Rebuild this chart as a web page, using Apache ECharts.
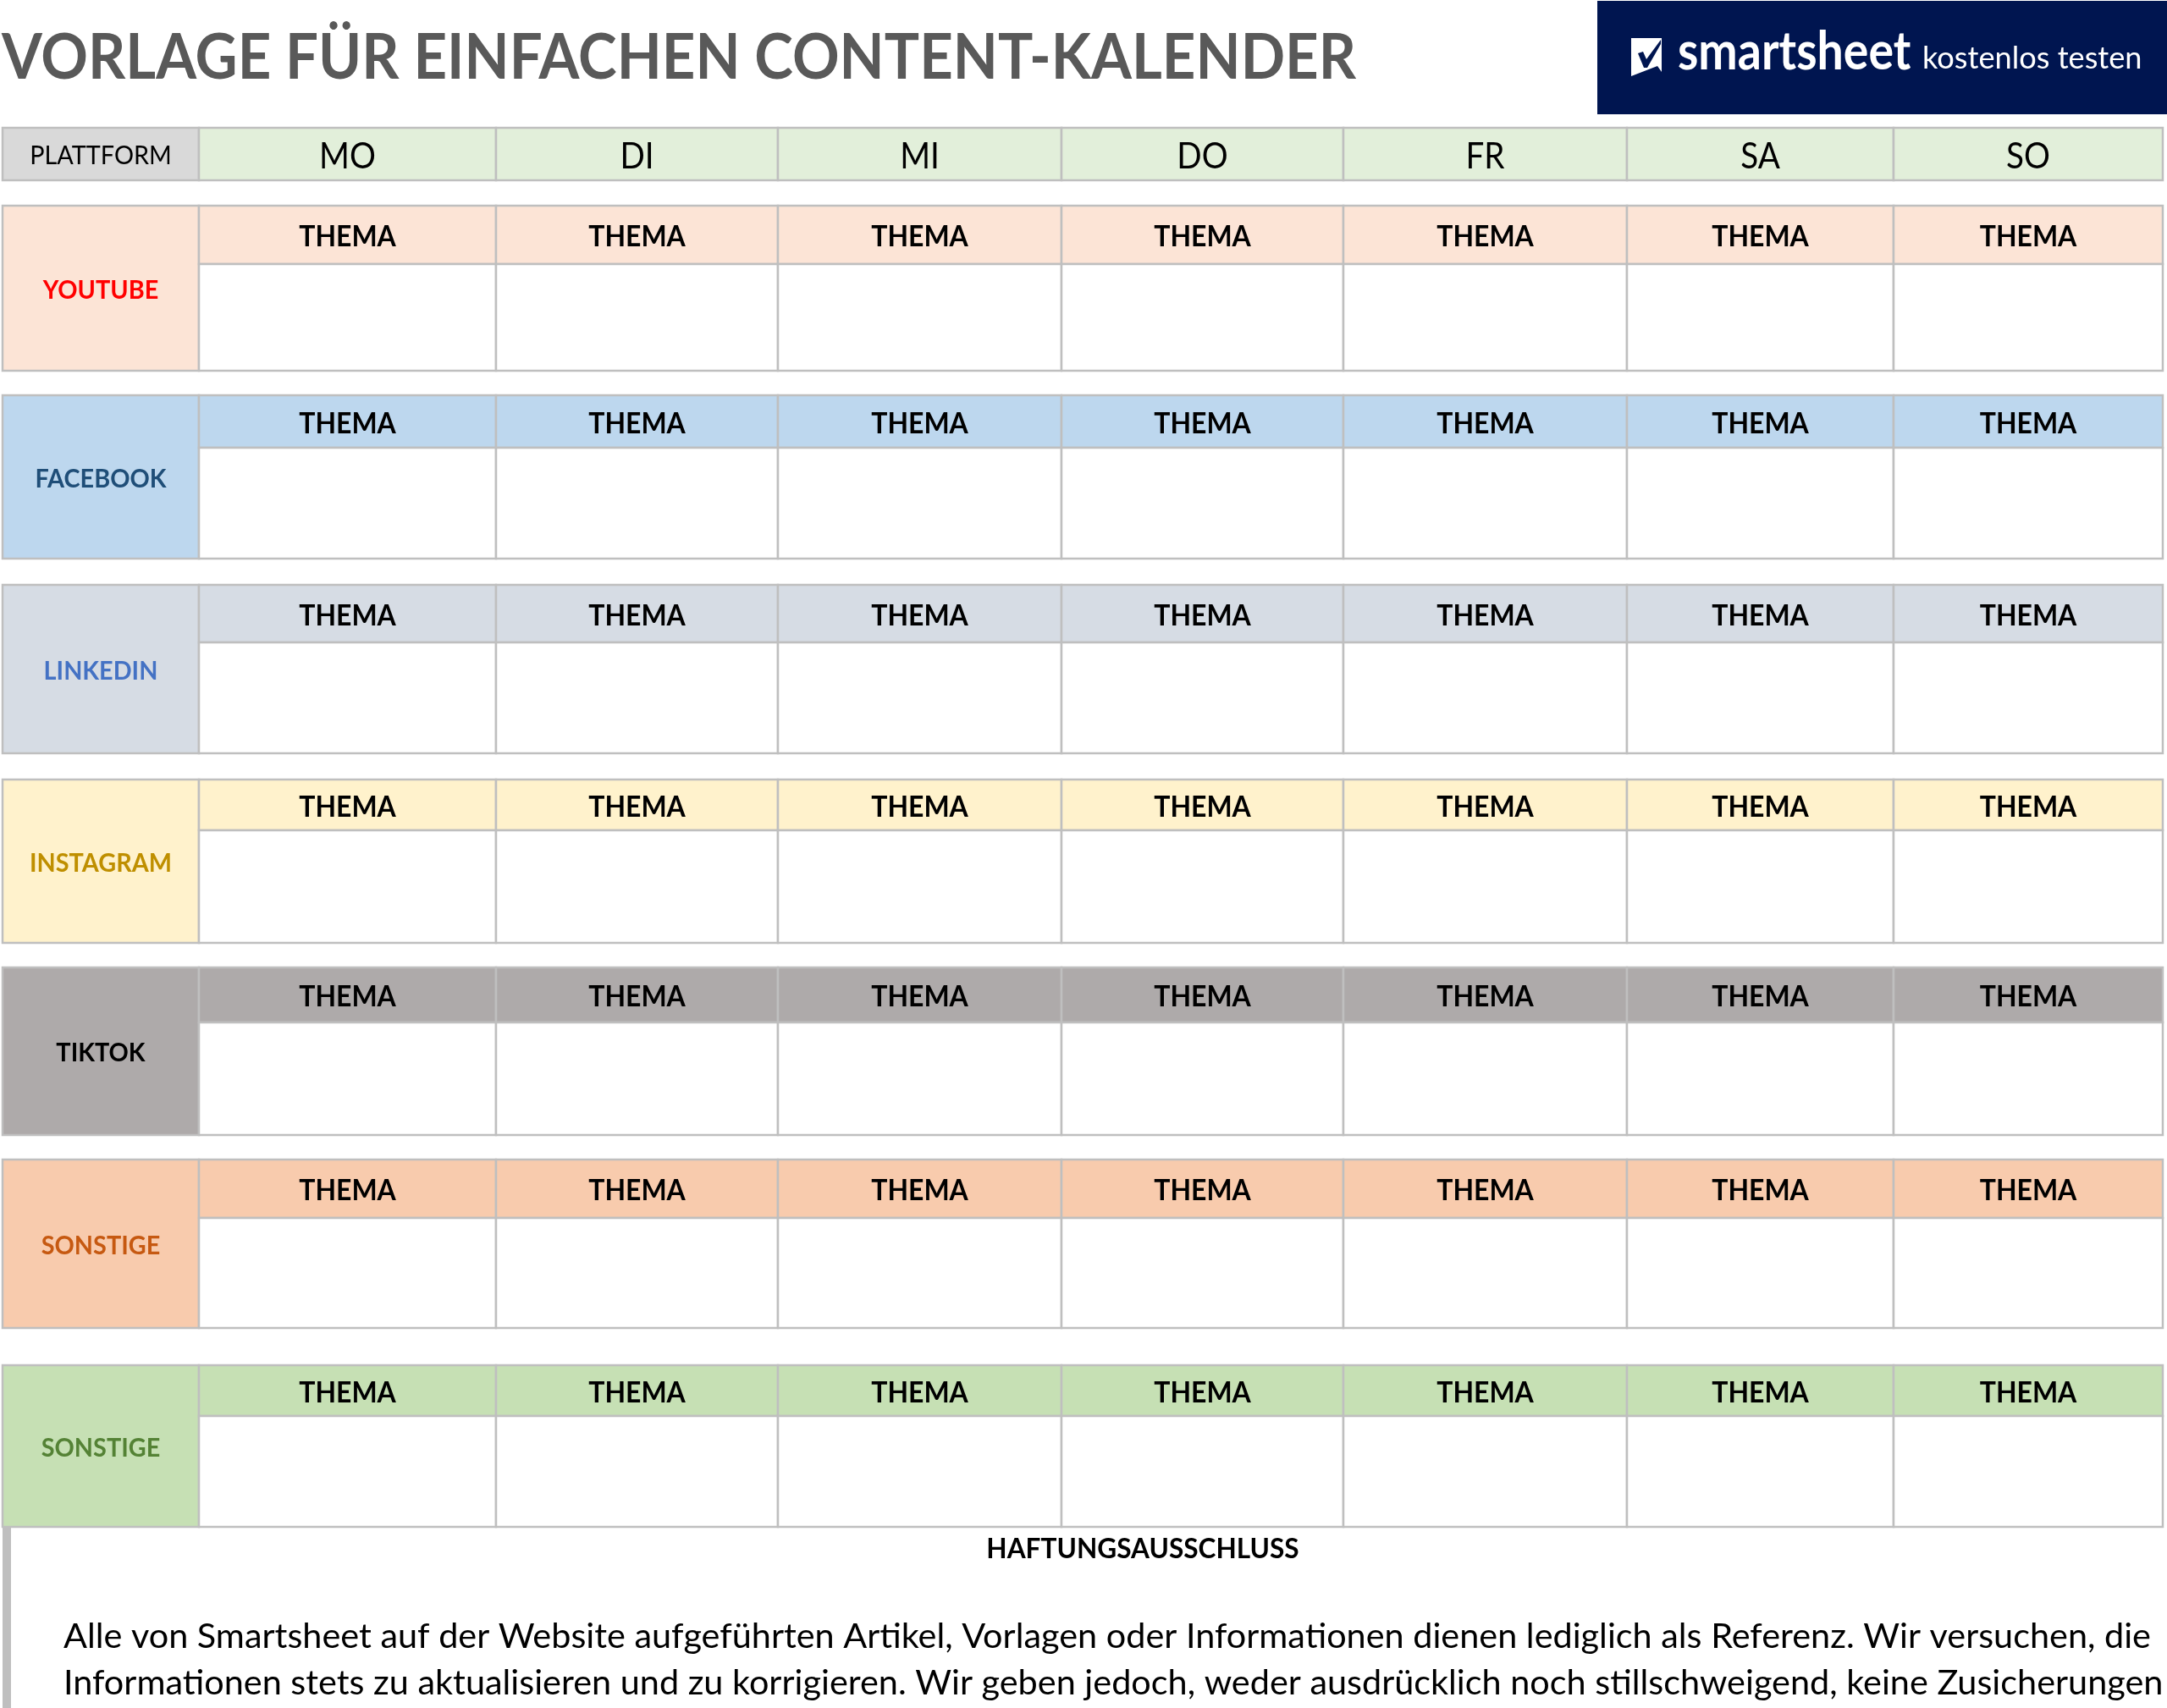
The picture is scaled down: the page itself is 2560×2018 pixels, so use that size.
<!DOCTYPE html>
<html>
<head>
<meta charset="utf-8">
<style>
  html, body { margin: 0; padding: 0; background: #fff; }
  #main { width: 2560px; height: 2018px; }
</style>
</head>
<body>
<div id="main"></div>
<script src="https://cdn.jsdelivr.net/npm/echarts@6/dist/echarts.min.js"></script>
<script>
// content
var titleText = 'VORLAGE FÜR EINFACHEN CONTENT-KALENDER';
var cornerLabel = 'PLATTFORM';
var weekdays = ['MO', 'DI', 'MI', 'DO', 'FR', 'SA', 'SO'];
var platforms = ['YOUTUBE', 'FACEBOOK', 'LINKEDIN', 'INSTAGRAM', 'TIKTOK', 'SONSTIGE', 'SONSTIGE'];
var topicLabel = 'THEMA';
var disclaimerTitle = 'HAFTUNGSAUSSCHLUSS';
var disclaimerLines = [
  'Alle von Smartsheet auf der Website aufgeführten Artikel, Vorlagen oder Informationen dienen lediglich als Referenz. Wir versuchen, die',
  'Informationen stets zu aktualisieren und zu korrigieren. Wir geben jedoch, weder ausdrücklich noch stillschweigend, keine Zusicherungen'
];

// table layout, in axis units
var columnEdges = [3, 235, 586, 919, 1254, 1587, 1922, 2237, 2555];
var headerRow = [151, 213];
var blockTops = [243, 467, 691, 921, 1143, 1370, 1613];
var blockSplits = [312, 529, 759, 981, 1208, 1439, 1673];
var blockBottoms = [438, 660, 890, 1114, 1341, 1569, 1804];

// colours
var platformFills = ['#FCE4D6', '#BDD7EE', '#D6DCE4', '#FFF2CC', '#AEAAAA', '#F8CBAD', '#C6E0B4'];
var platformInks = ['#FF0000', '#1F4E78', '#4472C4', '#BF8F00', '#000000', '#C65911', '#548235'];
var borderColor = '#BFBFBF';
var fontName = 'Lato';

// kind: 0 corner, 1 weekday, 2 platform, 3 topic, 4 empty cell
var cells = [];
cells.push([0, 0, 0]);
weekdays.forEach(function (d, c) {
  cells.push([1, c, 0]);
});
platforms.forEach(function (p, r) {
  cells.push([2, 0, r]);
  weekdays.forEach(function (d, c) {
    cells.push([3, c, r]);
    cells.push([4, c, r]);
  });
});

function cellBox(kind, c, r) {
  if (kind === 0) return [columnEdges[0], headerRow[0], columnEdges[1], headerRow[1]];
  if (kind === 1) return [columnEdges[c + 1], headerRow[0], columnEdges[c + 2], headerRow[1]];
  if (kind === 2) return [columnEdges[0], blockTops[r], columnEdges[1], blockBottoms[r]];
  if (kind === 3) return [columnEdges[c + 1], blockTops[r], columnEdges[c + 2], blockSplits[r]];
  return [columnEdges[c + 1], blockSplits[r], columnEdges[c + 2], blockBottoms[r]];
}

function renderCell(params, api) {
  var kind = api.value(0), c = api.value(1), r = api.value(2);
  var box = cellBox(kind, c, r);
  var p0 = api.coord([box[0], box[1]]);
  var p1 = api.coord([box[2], box[3]]);
  var fill = '#ffffff', text = '', ink = '#000000', font = '', squeeze = 1, shift = 2;
  if (kind === 0) {
    fill = '#D9D9D9'; text = cornerLabel; font = '400 30px ' + fontName; squeeze = 0.96;
  } else if (kind === 1) {
    fill = '#E2EFDA'; text = weekdays[c]; font = '400 42px ' + fontName; squeeze = 0.92; shift = 3;
  } else if (kind === 2) {
    fill = platformFills[r]; text = platforms[r]; ink = platformInks[r]; font = '700 31px ' + fontName; squeeze = 0.93;
  } else if (kind === 3) {
    fill = platformFills[r]; text = topicLabel; font = '700 34px ' + fontName; squeeze = 0.94; shift = 3;
  }
  var children = [{
    type: 'rect',
    shape: { x: p0[0], y: p0[1], width: p1[0] - p0[0], height: p1[1] - p0[1] },
    style: { fill: fill, stroke: borderColor, lineWidth: 2.5 }
  }];
  if (text) {
    children.push({
      type: 'text',
      x: (p0[0] + p1[0]) / 2,
      y: (p0[1] + p1[1]) / 2 + shift,
      scaleX: squeeze,
      style: {
        text: text,
        fill: ink,
        font: font,
        align: 'center',
        verticalAlign: 'middle'
      }
    });
  }
  return { type: 'group', children: children };
}

function plainText(x, y, text, font, fill, align, squeeze) {
  return {
    type: 'text',
    x: x,
    y: y,
    scaleX: squeeze || 1,
    silent: true,
    style: { text: text, font: font, fill: fill, align: align || 'left', verticalAlign: 'middle' }
  };
}

var myChart = echarts.init(document.getElementById('main'), null, { renderer: 'canvas' });
myChart.setOption({
  backgroundColor: '#ffffff',
  animation: false,
  grid: { left: 0, right: 0, top: 0, bottom: 0 },
  xAxis: { type: 'value', min: 0, max: 2560, show: false },
  yAxis: { type: 'value', min: 0, max: 2018, inverse: true, show: false },
  series: [{
    type: 'custom',
    coordinateSystem: 'cartesian2d',
    clip: false,
    silent: true,
    data: cells,
    renderItem: renderCell
  }],
  graphic: [
    plainText(2, 69, titleText, '700 74px ' + fontName, '#595959', 'left', 0.932),
    // logo
    { type: 'rect', shape: { x: 1887, y: 1, width: 673, height: 134 }, style: { fill: '#001550' } },
    {
      type: 'polygon',
      shape: { points: [[1927, 45], [1963, 45], [1963, 85], [1958, 78], [1927, 90]] },
      style: { fill: '#ffffff' }
    },
    {
      type: 'polygon',
      shape: { points: [[1935, 63], [1941, 61], [1945, 70], [1962, 47], [1962, 52], [1946, 80], [1942, 80]] },
      style: { fill: '#001550' }
    },
    plainText(1982, 62, 'smartsheet', '700 63px ' + fontName, '#ffffff', 'left', 0.88),
    plainText(2271, 69, 'kostenlos testen', '400 36px ' + fontName, '#ffffff', 'left', 1.005),
    // disclaimer
    { type: 'rect', shape: { x: 3, y: 1805, width: 10, height: 213 }, style: { fill: borderColor } },
    plainText(1350, 1831, disclaimerTitle, '700 31.6px ' + fontName, '#000000', 'center'),
    plainText(75, 1934, disclaimerLines[0], '400 41.4px ' + fontName, '#000000'),
    plainText(75, 1989, disclaimerLines[1], '400 41.4px ' + fontName, '#000000')
  ]
});
</script>
</body>
</html>
